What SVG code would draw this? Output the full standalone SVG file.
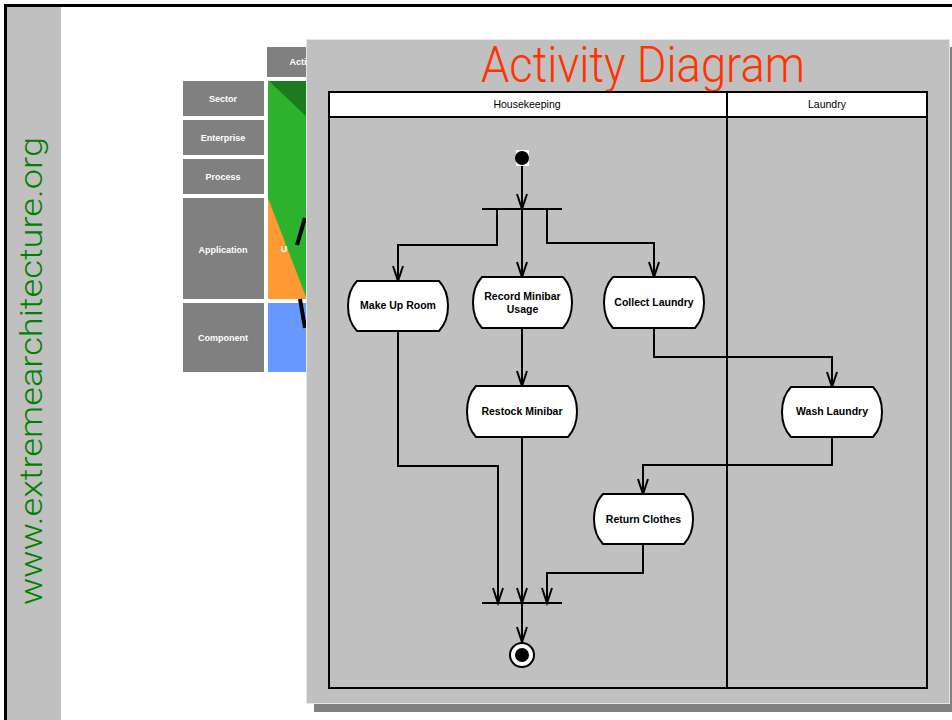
<svg xmlns="http://www.w3.org/2000/svg" width="952" height="720" viewBox="0 0 952 720">
<style>
.lbl{font-family:"Liberation Sans",Arial,sans-serif;font-size:9px;font-weight:bold;fill:#fff;text-anchor:middle}
.hdr{font-family:"Liberation Sans",Arial,sans-serif;font-size:10.5px;fill:#000;text-anchor:middle}
.act{fill:#fff;stroke:#000;stroke-width:2}
.at{font-family:"Liberation Sans",Arial,sans-serif;font-size:10.5px;font-weight:bold;fill:#000;text-anchor:middle}
.con{fill:none;stroke:#000;stroke-width:2;marker-end:url(#arr)}
.bar{stroke:#000;stroke-width:2}
.lane{fill:none;stroke:#000;stroke-width:2}
</style>
<defs>
<marker id="arr" markerUnits="userSpaceOnUse" orient="auto" markerWidth="20" markerHeight="20" refX="0" refY="0" overflow="visible">
<path d="M-15,-5 L0,0 L-15,5" fill="none" stroke="#000" stroke-width="2"/>
</marker>
</defs>
<rect x="0" y="0" width="952" height="720" fill="#fff"/>
<rect x="7" y="7" width="54" height="713" fill="#c0c0c0"/>
<path d="M5.5,720 V5.5 H952" fill="none" stroke="#000" stroke-width="3"/>
<text x="0" y="0" transform="translate(42,605) rotate(-90)" font-family="Roboto,'Liberation Sans',Arial,sans-serif" font-weight="300" font-size="32" fill="#008000" textLength="468" lengthAdjust="spacingAndGlyphs">www.extremearchitecture.org</text>

<g id="background-matrix">
<rect x="267" y="47" width="45" height="30" fill="#808080"/>
<text class="lbl" x="298" y="65">Acti</text>
<rect x="183" y="81" width="81" height="35" fill="#808080"/>
<text class="lbl" x="223" y="102">Sector</text>
<rect x="183" y="120" width="81" height="35" fill="#808080"/>
<text class="lbl" x="223" y="141">Enterprise</text>
<rect x="183" y="159" width="81" height="35" fill="#808080"/>
<text class="lbl" x="223" y="180">Process</text>
<rect x="183" y="198" width="81" height="101" fill="#808080"/>
<text class="lbl" x="223" y="253">Application</text>
<rect x="183" y="303" width="81" height="69" fill="#808080"/>
<text class="lbl" x="223" y="341">Component</text>
<rect x="268" y="81" width="40" height="218" fill="#2db22d"/>
<polygon points="269,81 308,81 308,118" fill="#1e7a1e"/>
<polygon points="268,198 306,297 306,299 268,299" fill="#ff9933"/>
<rect x="268" y="303" width="40" height="69" fill="#6699ff"/>
<text class="lbl" x="284" y="252">U</text>
<line x1="305" y1="218" x2="297" y2="245" stroke="#000" stroke-width="4"/>
<line x1="300" y1="299" x2="305" y2="328" stroke="#000" stroke-width="4"/>
</g>

<rect x="314" y="47" width="643" height="665" fill="#808080"/>
<rect x="306.5" y="39.5" width="643" height="664" fill="#c0c0c0" stroke="#e6e6e6" stroke-width="1"/>
<text x="481" y="82" font-family="Roboto,'Liberation Sans',Arial,sans-serif" font-weight="300" font-size="50" fill="#ff3300" textLength="324" lengthAdjust="spacingAndGlyphs">Activity Diagram</text>

<g id="swimlanes">
<rect x="329" y="92" width="598" height="25" fill="#fff"/>
<rect x="329" y="92" width="598" height="596" class="lane"/>
<line x1="329" y1="117" x2="927" y2="117" class="lane"/>
<line x1="727" y1="92" x2="727" y2="688" class="lane"/>
<text class="hdr" x="527" y="108">Housekeeping</text>
<text class="hdr" x="827" y="108">Laundry</text>
</g>

<g id="connectors">
<path class="con" d="M522,165 V209"/>
<path class="con" d="M497,209 V245 H398 V281"/>
<path class="con" d="M522,209 V277"/>
<path class="con" d="M547,209 V243 H654 V277"/>
<path class="con" d="M522,328 V386"/>
<path class="con" d="M654,328 V357 H832 V387"/>
<path class="con" d="M832,437 V465 H643 V494"/>
<path class="con" d="M398,331 V466 H498 V603"/>
<path class="con" d="M522,437 V603"/>
<path class="con" d="M643,544 V573 H547 V603"/>
<path class="con" d="M522,603 V642"/>
</g>

<g id="start">
<rect x="516" y="150" width="13" height="16" fill="#fff"/>
<circle cx="522" cy="158" r="7" fill="#000"/>
</g>
<g id="fork"><line class="bar" x1="482" y1="209" x2="562" y2="209"/></g>
<g id="join"><line class="bar" x1="482" y1="603" x2="562" y2="603"/></g>

<g id="make-up-room">
<path class="act" d="M357,281 H439 C451,293.5 451,318.5 439,331 H357 C345,318.5 345,293.5 357,281 Z"/>
<text class="at" x="398" y="309">Make Up Room</text>
</g>
<g id="record-minibar">
<path class="act" d="M482,277 H563 C575,289.75 575,315.25 563,328 H482 C470,315.25 470,289.75 482,277 Z"/>
<text class="at" x="522.5" y="300">Record Minibar</text>
<text class="at" x="522.5" y="313">Usage</text>
</g>
<g id="collect-laundry">
<path class="act" d="M613,277 H695 C707,289.75 707,315.25 695,328 H613 C601,315.25 601,289.75 613,277 Z"/>
<text class="at" x="654" y="306">Collect Laundry</text>
</g>
<g id="restock-minibar">
<path class="act" d="M476,386 H568 C580,398.75 580,424.25 568,437 H476 C464,424.25 464,398.75 476,386 Z"/>
<text class="at" x="522" y="415">Restock Minibar</text>
</g>
<g id="wash-laundry">
<path class="act" d="M791,387 H873 C885,399.5 885,424.5 873,437 H791 C779,424.5 779,399.5 791,387 Z"/>
<text class="at" x="832" y="415">Wash Laundry</text>
</g>
<g id="return-clothes">
<path class="act" d="M603,494 H684 C696,506.5 696,531.5 684,544 H603 C591,531.5 591,506.5 603,494 Z"/>
<text class="at" x="643.5" y="523">Return Clothes</text>
</g>
<g id="final">
<circle cx="522" cy="655" r="12" fill="#fff" stroke="#000" stroke-width="2"/>
<circle cx="522" cy="655" r="7" fill="#000"/>
</g>
</svg>
